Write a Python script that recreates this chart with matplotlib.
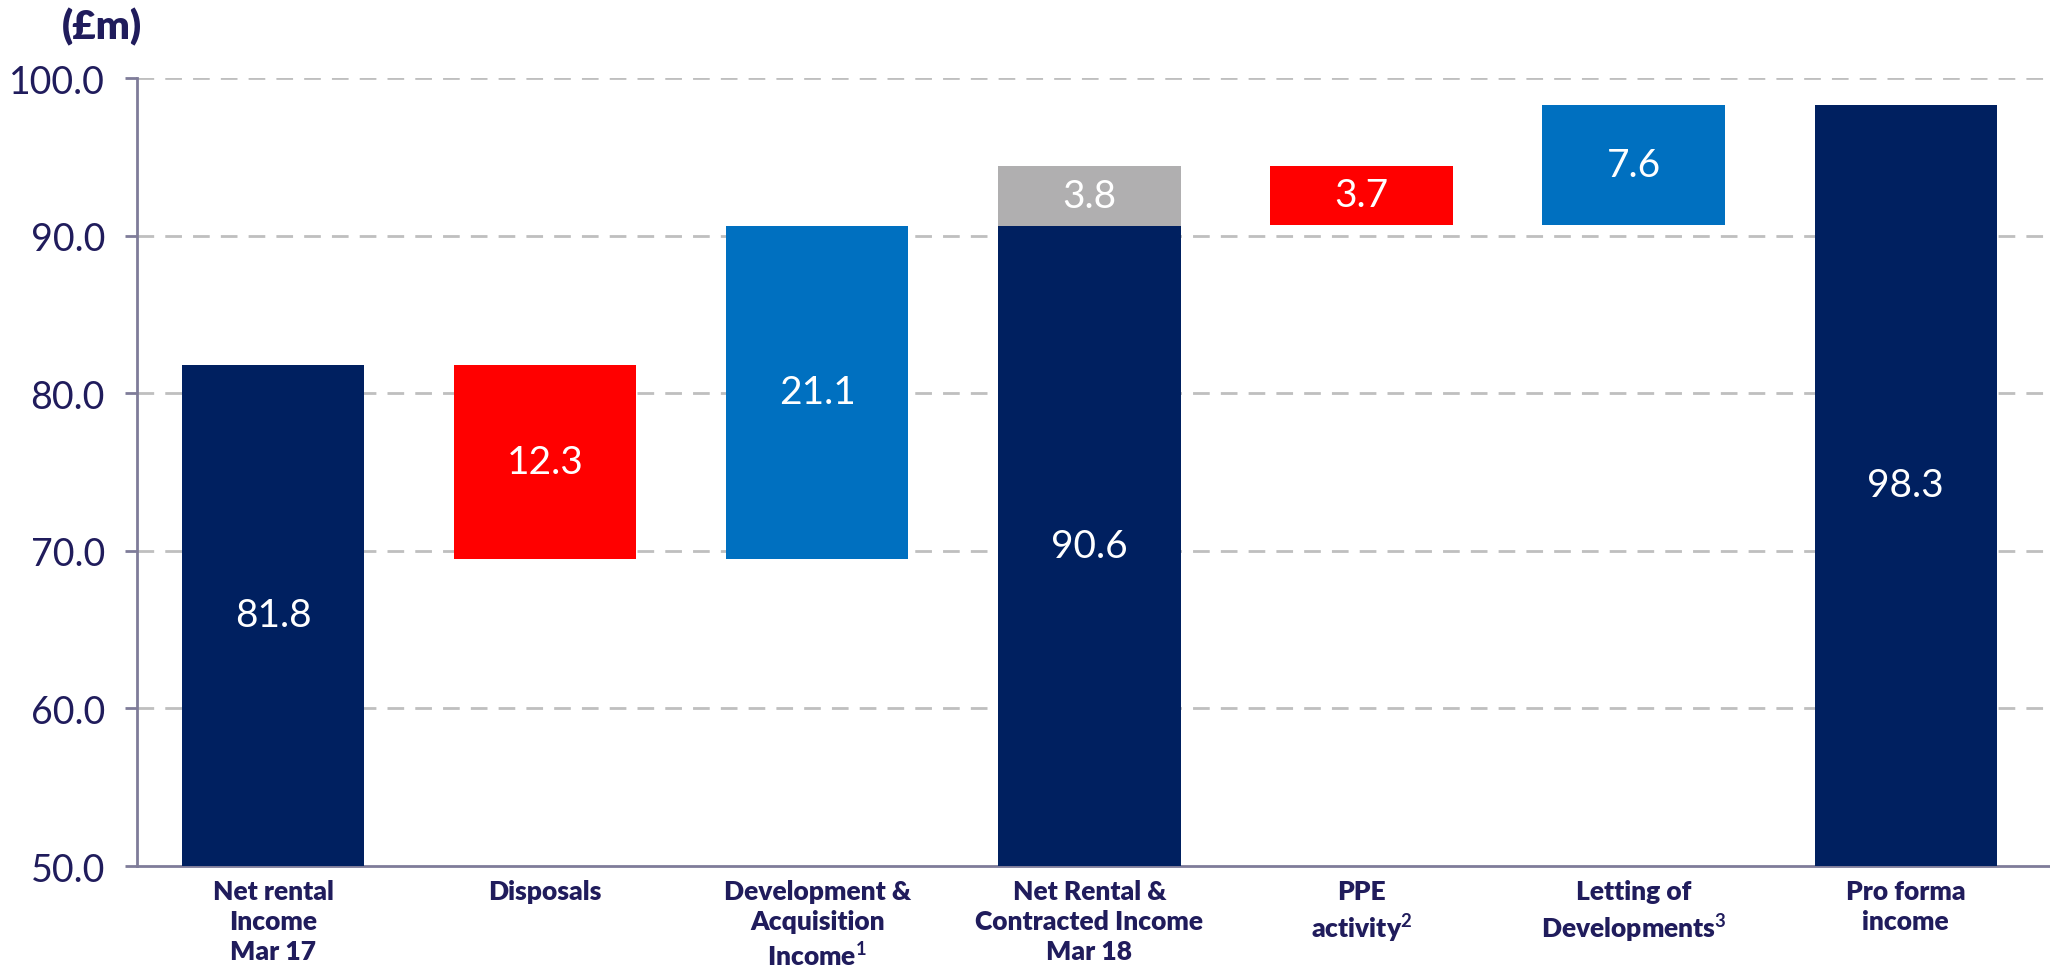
import matplotlib.pyplot as plt

# Income bridge, £m
categories = ['Net rental\nIncome\nMar 17', 'Disposals', 'Development &\nAcquisition\nIncome$^{\\mathrm{1}}$',
              'Net Rental &\nContracted Income\nMar 18', 'PPE\nactivity$^{\\mathrm{2}}$',
              'Letting of\nDevelopments$^{\\mathrm{3}}$', 'Pro forma\nincome']
totals = {0: 81.8, 3: 90.6, 6: 98.3}
changes = {1: -12.3, 2: 21.1, 4: -3.7, 5: 7.6}
contracted = 3.8  # sits on top of the Mar 18 total

navy = '#002060'
red = '#FF0000'
blue = '#0070C0'
grey = '#B0AFB0'
text_col = '#201C5C'

plt.rcParams['font.family'] = ['Lato', 'DejaVu Sans']
plt.rcParams['mathtext.fontset'] = 'custom'
plt.rcParams['mathtext.rm'] = 'Lato:weight=bold'

fig = plt.figure(figsize=(20.5, 9.79), dpi=100)
ax = fig.add_axes([0.0668, 0.1144, 0.9332, 0.8049])

ymin = 50.0
width = 0.67
num_size = 28
level = 0.0
for i in range(len(categories)):
    if i in totals:
        top = totals[i]
        ax.bar(i, top - ymin, bottom=ymin, width=width, color=navy, zorder=3)
        ax.text(i, (ymin + top) / 2, f'{top:.1f}', ha='center', va='center',
                color='white', fontsize=num_size, zorder=4)
        level = top
        if i == 3:
            ax.bar(i, contracted, bottom=top, width=width, color=grey, zorder=3)
            ax.text(i, top + contracted / 2, f'{contracted:.1f}', ha='center', va='center',
                    color='white', fontsize=num_size, zorder=4)
            level = top + contracted
    else:
        d = changes[i]
        lo = min(level, level + d)
        ax.bar(i, abs(d), bottom=lo, width=width, color=red if d < 0 else blue, zorder=3)
        ax.text(i, lo + abs(d) / 2, f'{abs(d):.1f}', ha='center', va='center',
                color='white', fontsize=num_size, zorder=4)
        level = level + d

ax.set_xlim(-0.5, len(categories) - 0.47)
ax.set_ylim(50, 100)
ax.set_yticks([50, 60, 70, 80, 90, 100])
ax.set_yticklabels([f'{v:.1f}' for v in [50, 60, 70, 80, 90, 100]])
ax.tick_params(axis='y', labelsize=27, labelcolor=text_col, color='#7F7C99',
               length=9, width=2, pad=14)
ax.set_xticks([])

for v in [60, 70, 80, 90, 100]:
    ax.axhline(v, color='#BFBFBF', linewidth=2, linestyle=(0, (6, 4)), zorder=1)

for s in ['top', 'right']:
    ax.spines[s].set_visible(False)
for s in ['left', 'bottom']:
    ax.spines[s].set_color('#7F7C99')
    ax.spines[s].set_linewidth(2)

for i, lab in enumerate(categories):
    ax.text(i, -0.016, lab, transform=ax.get_xaxis_transform(), ha='center', va='top',
            fontsize=19, fontweight='heavy', color=text_col, linespacing=1.3)

fig.text(0.03, 0.972, '(£m)', ha='left', va='center', fontsize=29,
         fontweight='heavy', color=text_col)

fig.savefig('out.png', dpi=100)
